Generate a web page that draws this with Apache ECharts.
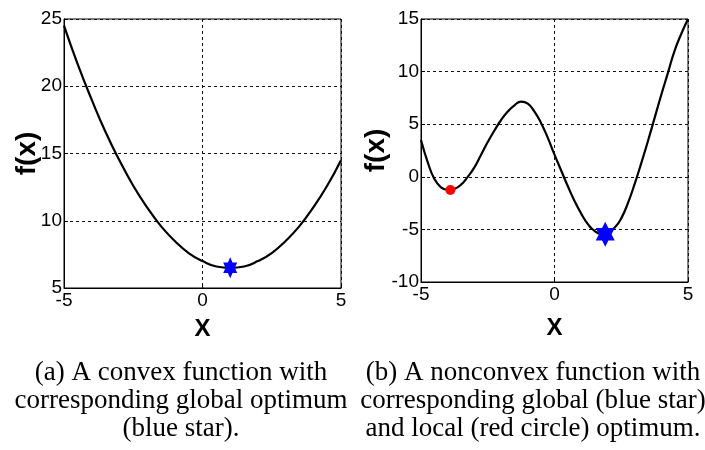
<!DOCTYPE html>
<html>
<head>
<meta charset="utf-8">
<script src="https://cdn.jsdelivr.net/npm/echarts@6/dist/echarts.min.js"></script>
<style>html,body{margin:0;padding:0;background:#fff}#c{width:705px;height:450px}</style>
</head>
<body>
<div id="c"></div>
<script>
// Data
var xTicks = [-5, 0, 5];
var yTicksA = [5, 10, 15, 20, 25];
var yTicksB = [-10, -5, 0, 5, 10, 15];

var convexX = [-5, -4.5, -4, -3.5, -3, -2.5, -2, -1.5, -1, -0.5, 0, 0.5, 1, 1.5, 2, 2.5, 3, 3.5, 4, 4.5, 5];
var convexY = [24.5, 21.6, 19.0, 16.6, 14.5, 12.6, 11.0, 9.6, 8.5, 7.6, 7.0, 6.6, 6.5, 6.6, 7.0, 7.6, 8.5, 9.6, 11.0, 12.6, 14.5];
var convexOptX = [1.0];
var convexOptY = [6.5];

var nonconvexX = [-5, -4.75, -4.5, -4.25, -4, -3.75, -3.5, -3.25, -3, -2.75, -2.5, -2.25, -2, -1.75, -1.5, -1.25, -1, -0.75, -0.5, -0.25,
                  0, 0.25, 0.5, 0.75, 1, 1.25, 1.5, 1.75, 2, 2.25, 2.5, 2.75, 3, 3.25, 3.5, 3.75, 4, 4.25, 4.5, 4.75, 5];
var nonconvexY = [3.5, 1.4, -0.2, -1.0, -1.25, -1.15, -0.75, 0.0, 0.9, 2.1, 3.3, 4.4, 5.4, 6.2, 6.8, 7.15, 6.95, 6.2, 5.1, 3.7,
                  2.1, 0.6, -0.9, -2.3, -3.5, -4.5, -5.15, -5.42, -5.3, -4.85, -3.95, -2.5, -0.7, 1.3, 3.4, 5.6, 7.8, 9.9, 12.0, 13.6, 15.0];
var globalOptX = [1.9];
var globalOptY = [-5.45];
var localOptX = [-3.9];
var localOptY = [-1.25];

var captionA = ['(a) A convex function with', 'corresponding global optimum', '(blue star).'];
var captionB = ['(b) A nonconvex function with', 'corresponding global (blue star)', 'and local (red circle) optimum.'];

function pairs(xs, ys) { return xs.map(function (x, i) { return [x, ys[i]]; }); }

var hexagram = 'path://M50,0L64.43,25L93.3,25L78.87,50L93.3,75L64.43,75L50,100L35.57,75L6.7,75L21.13,50L6.7,25L35.57,25Z';
var tickFont = 'Liberation Sans, Arial, sans-serif';

function xAxisCfg(gi, gap) {
  return {
    gridIndex: gi, type: 'value', min: -5, max: 5, interval: 5,
    name: 'X', nameLocation: 'middle', nameGap: gap, nameMoveOverlap: false,
    nameTextStyle: { fontFamily: tickFont, fontWeight: 'bold', fontSize: 24, color: '#000' },
    axisLine: { onZero: false, lineStyle: { color: '#000', width: 1 } },
    axisTick: { show: true, inside: true, length: 4, lineStyle: { color: '#000' } },
    axisLabel: { margin: 3, fontFamily: tickFont, fontSize: 19, color: '#000' },
    splitLine: { show: true, lineStyle: { color: '#111', type: [3, 3], width: 1 } }
  };
}
function yAxisCfg(gi, mn, mx, gap) {
  return {
    gridIndex: gi, type: 'value', min: mn, max: mx, interval: 5,
    name: 'f(x)', nameLocation: 'middle', nameGap: gap, nameRotate: 90, nameMoveOverlap: false,
    nameTextStyle: { fontFamily: tickFont, fontWeight: 'bold', fontSize: 28, color: '#000' },
    axisLine: { show: true, onZero: false, lineStyle: { color: '#000', width: 1 } },
    axisTick: { show: true, inside: true, length: 4, lineStyle: { color: '#000' } },
    axisLabel: { margin: 2, fontFamily: tickFont, fontSize: 19, color: '#000' },
    splitLine: { show: true, lineStyle: { color: '#111', type: [3, 3], width: 1 } }
  };
}

var chart = echarts.init(document.getElementById('c'), null, { renderer: 'canvas' });
chart.setOption({
  animation: false,
  backgroundColor: '#fff',
  title: [
    { text: captionA.join('\n'), left: 176, top: 354, textAlign: 'center',
      textStyle: { fontFamily: 'Liberation Serif, Times New Roman, serif', fontWeight: 'normal', fontSize: 27, lineHeight: 28, color: '#000' } },
    { text: captionB.join('\n'), left: 528, top: 354, textAlign: 'center',
      textStyle: { fontFamily: 'Liberation Serif, Times New Roman, serif', fontWeight: 'normal', fontSize: 27, lineHeight: 28, color: '#000' } }
  ],
  grid: [
    { left: 64, top: 19, width: 277, height: 269, show: true, borderColor: '#000', borderWidth: 1, backgroundColor: 'transparent' },
    { left: 421, top: 19, width: 267, height: 263, show: true, borderColor: '#000', borderWidth: 1, backgroundColor: 'transparent' }
  ],
  xAxis: [xAxisCfg(0, 29), xAxisCfg(1, 34)],
  yAxis: [yAxisCfg(0, 5, 25, 23), yAxisCfg(1, -10, 15, 31)],
  series: [
    { type: 'line', xAxisIndex: 0, yAxisIndex: 0, data: pairs(convexX, convexY), smooth: true,
      showSymbol: false, lineStyle: { color: '#000', width: 2.2 }, z: 3 },
    { type: 'scatter', xAxisIndex: 0, yAxisIndex: 0, data: pairs(convexOptX, convexOptY),
      symbol: hexagram, symbolSize: [14, 21], itemStyle: { color: '#0000ff', opacity: 1 }, z: 5 },
    { type: 'line', xAxisIndex: 1, yAxisIndex: 1, data: pairs(nonconvexX, nonconvexY), smooth: 0.5,
      showSymbol: false, lineStyle: { color: '#000', width: 2.2 }, z: 3 },
    { type: 'scatter', xAxisIndex: 1, yAxisIndex: 1, data: pairs(globalOptX, globalOptY),
      symbol: hexagram, symbolSize: [19, 25], itemStyle: { color: '#0000ff', opacity: 1 }, z: 5 },
    { type: 'scatter', xAxisIndex: 1, yAxisIndex: 1, data: pairs(localOptX, localOptY),
      symbol: 'circle', symbolSize: 10, itemStyle: { color: '#ff0000', opacity: 1 }, z: 5 }
  ]
});
</script>
</body>
</html>
